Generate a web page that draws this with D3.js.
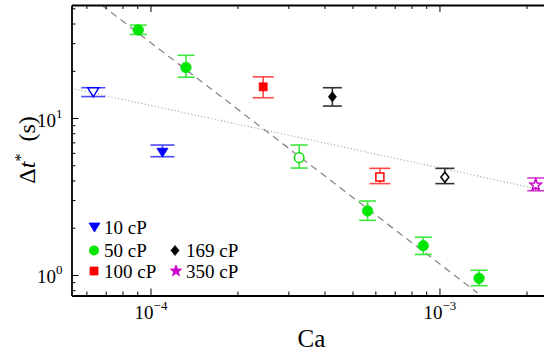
<!DOCTYPE html>
<html>
<head>
<meta charset="utf-8">
<script src="https://cdn.jsdelivr.net/npm/d3@7"></script>
<style>
  html, body { margin: 0; padding: 0; background: #fff; }
</style>
</head>
<body>
<svg id="chart" width="544" height="356"></svg>
<script>
// ---- data ----
const cp10_ca   = [6.34e-5, 1.10e-4];
const cp10_dt   = [14.8, 6.1];
const cp10_lo   = [13.7, 5.67];
const cp10_hi   = [15.6, 6.73];
const cp10_open = [true, false];

const cp50_ca   = [9.07e-5, 1.327e-4, 3.27e-4, 5.64e-4, 8.79e-4, 1.371e-3];
const cp50_dt   = [36.4, 21.0, 5.59, 2.56, 1.537, 0.953];
const cp50_lo   = [34.1, 18.2, 4.80, 2.23, 1.35, 0.855];
const cp50_hi   = [39.1, 25.1, 6.73, 2.96, 1.74, 1.071];
const cp50_open = [false, false, true, false, false, false];

const cp100_ca   = [2.455e-4, 6.22e-4];
const cp100_dt   = [15.8, 4.21];
const cp100_lo   = [13.47, 3.82];
const cp100_hi   = [18.3, 4.78];
const cp100_open = [false, true];

const cp169_ca   = [4.26e-4, 1.044e-3];
const cp169_dt   = [13.67, 4.19];
const cp169_lo   = [11.92, 3.82];
const cp169_hi   = [15.6, 4.78];
const cp169_open = [false, true];

const cp350_ca   = [2.153e-3];
const cp350_dt   = [3.74];
const cp350_lo   = [3.44];
const cp350_hi   = [4.15];
const cp350_open = [true];

const seriesLabels = ["10 cP", "50 cP", "100 cP", "169 cP", "350 cP"];

// fit lines (endpoints)
const dashCa = [6.77e-5, 1.355e-3];
const dashDt = [52.5, 0.768];
const dotCa  = [5.33e-5, 2.11e-3];
const dotDt  = [15.46, 3.58];

// ticks
const xMajor = [1e-4, 1e-3];
const xMajorExp = ["\u22124", "\u22123"];
const xMinor = [6e-5, 7e-5, 8e-5, 9e-5, 2e-4, 3e-4, 4e-4, 5e-4, 6e-4, 7e-4, 8e-4, 9e-4, 2e-3];
const yMajor = [1, 10];
const yMajorExp = ["0", "1"];
const yMinor = [0.8, 0.9, 2, 3, 4, 5, 6, 7, 8, 9, 20, 30, 40, 50];

// ---- scales ----
const svg = d3.select("#chart");
const FONT = "Liberation Serif";
const x = d3.scaleLog().domain([5.33e-5, 2.30e-3]).range([71.5, 544]);
const y = d3.scaleLog().domain([0.740, 52.5]).range([295.5, 5]);

// ---- styles ----
const styles = [
  { name: seriesLabels[0], ca: cp10_ca, dt: cp10_dt, lo: cp10_lo, hi: cp10_hi, open: cp10_open,
    color: "#0000ff", bar: "#4a4aff", cap: 24, shape: "tri" },
  { name: seriesLabels[1], ca: cp50_ca, dt: cp50_dt, lo: cp50_lo, hi: cp50_hi, open: cp50_open,
    color: "#00e600", bar: "#3de83d", cap: 17, shape: "circle" },
  { name: seriesLabels[2], ca: cp100_ca, dt: cp100_dt, lo: cp100_lo, hi: cp100_hi, open: cp100_open,
    color: "#ff0000", bar: "#ff4a4a", cap: 21, shape: "square" },
  { name: seriesLabels[3], ca: cp169_ca, dt: cp169_dt, lo: cp169_lo, hi: cp169_hi, open: cp169_open,
    color: "#000000", bar: "#333333", cap: 19, shape: "diamond" },
  { name: seriesLabels[4], ca: cp350_ca, dt: cp350_dt, lo: cp350_lo, hi: cp350_hi, open: cp350_open,
    color: "#cc00cc", bar: "#d040d0", cap: 17, shape: "star" }
];

function shapePath(shape) {
  switch (shape) {
    case "tri": return "M-5.5,-3.5L5.5,-3.5L0,5.5Z";
    case "square": return "M-4,-4L4,-4L4,4L-4,4Z";
    case "diamond": return "M0,-5L4,0L0,5L-4,0Z";
    case "star": {
      const pts = [];
      for (let i = 0; i < 10; i++) {
        const r = i % 2 === 0 ? 6 : 2.6;
        const a = -Math.PI / 2 + i * Math.PI / 5;
        pts.push([r * Math.cos(a), r * Math.sin(a)]);
      }
      return "M" + pts.map(p => p[0].toFixed(2) + "," + p[1].toFixed(2)).join("L") + "Z";
    }
    default: return null;
  }
}

// ---- fit lines ----
const line = d3.line().x(d => x(d[0])).y(d => y(d[1]));
svg.append("path")
  .attr("d", line(d3.zip(dotCa, dotDt)))
  .attr("fill", "none").attr("stroke", "#a8a8a8").attr("stroke-width", 1.1)
  .attr("stroke-dasharray", "1.2,2.2");
svg.append("path")
  .attr("d", line(d3.zip(dashCa, dashDt)))
  .attr("fill", "none").attr("stroke", "#888").attr("stroke-width", 1.3)
  .attr("stroke-dasharray", "7,5");

// ---- error bars and markers ----
styles.forEach(s => {
  const pts = s.ca.map((c, i) => ({ ca: c, dt: s.dt[i], lo: s.lo[i], hi: s.hi[i], open: s.open[i] }));
  const g = svg.append("g");
  const eb = g.selectAll("g.eb").data(pts).enter().append("g").attr("class", "eb")
    .attr("stroke", s.bar).attr("stroke-width", 1.6).attr("fill", "none");
  eb.append("line").attr("x1", d => x(d.ca)).attr("x2", d => x(d.ca))
    .attr("y1", d => y(d.lo)).attr("y2", d => y(d.hi));
  eb.append("line").attr("x1", d => x(d.ca) - s.cap / 2).attr("x2", d => x(d.ca) + s.cap / 2)
    .attr("y1", d => y(d.lo)).attr("y2", d => y(d.lo));
  eb.append("line").attr("x1", d => x(d.ca) - s.cap / 2).attr("x2", d => x(d.ca) + s.cap / 2)
    .attr("y1", d => y(d.hi)).attr("y2", d => y(d.hi));

  pts.forEach(d => {
    const cx = x(d.ca), cy = y(d.dt);
    let m;
    if (s.shape === "circle") {
      m = g.append("circle").attr("cx", cx).attr("cy", cy).attr("r", d.open ? 4.8 : 5.2);
    } else {
      m = g.append("path").attr("d", shapePath(s.shape)).attr("transform", `translate(${cx},${cy})`);
    }
    if (d.open) m.attr("fill", "#fff").attr("stroke", s.color).attr("stroke-width", 1.5);
    else m.attr("fill", s.color).attr("stroke", s.color).attr("stroke-width", 0.8);
  });
});

// ---- axes ----
const axisW = 1.8;
function styleAxis(g) {
  g.attr("font-family", FONT);
  g.select(".domain").attr("stroke", "#000").attr("stroke-width", axisW);
  g.selectAll(".tick line").attr("stroke", "#000").attr("stroke-width", 1);
}
// bottom
const gb = svg.append("g").attr("transform", "translate(0,295.5)")
  .call(d3.axisBottom(x).tickValues(xMajor).tickSizeInner(-7).tickSizeOuter(0).tickFormat(""));
styleAxis(gb);
svg.append("g").attr("transform", "translate(0,295.5)")
  .call(d3.axisBottom(x).tickValues(xMinor).tickSizeInner(-4).tickSizeOuter(0).tickFormat(""))
  .call(g => { g.select(".domain").remove(); g.selectAll(".tick line").attr("stroke", "#000"); });
gb.selectAll(".tick").append("text")
  .attr("y", 23).attr("fill", "#000").attr("text-anchor", "middle")
  .attr("font-family", FONT).attr("font-size", 19)
  .each(function(d, i) {
    const t = d3.select(this);
    t.append("tspan").text("10");
    t.append("tspan").attr("font-size", 13).attr("dy", -9).text(xMajorExp[i]);
  });
// top
const gt = svg.append("g").attr("transform", "translate(0,5)")
  .call(d3.axisTop(x).tickValues(xMajor).tickSizeInner(-7).tickSizeOuter(0).tickFormat(""));
styleAxis(gt);
svg.append("g").attr("transform", "translate(0,5)")
  .call(d3.axisTop(x).tickValues(xMinor).tickSizeInner(-4).tickSizeOuter(0).tickFormat(""))
  .call(g => { g.select(".domain").remove(); g.selectAll(".tick line").attr("stroke", "#000"); });
// left
const gl = svg.append("g").attr("transform", "translate(71.5,0)")
  .call(d3.axisLeft(y).tickValues(yMajor).tickSizeInner(-7).tickSizeOuter(0).tickFormat(""));
styleAxis(gl);
svg.append("g").attr("transform", "translate(71.5,0)")
  .call(d3.axisLeft(y).tickValues(yMinor).tickSizeInner(-4).tickSizeOuter(0).tickFormat(""))
  .call(g => { g.select(".domain").remove(); g.selectAll(".tick line").attr("stroke", "#000"); });
gl.selectAll(".tick").append("text")
  .attr("x", -9).attr("y", 8).attr("fill", "#000").attr("text-anchor", "end")
  .attr("font-family", FONT).attr("font-size", 19)
  .each(function(d, i) {
    const t = d3.select(this);
    t.append("tspan").text("10");
    t.append("tspan").attr("font-size", 13).attr("dy", -9).text(yMajorExp[i]);
  });

// ---- axis labels ----
svg.append("text").attr("x", 311.5).attr("y", 347).attr("text-anchor", "middle")
  .attr("font-family", FONT).attr("font-size", 25).text("Ca");
const yl = svg.append("text").attr("transform", "translate(35,150) rotate(-90)")
  .attr("text-anchor", "middle").attr("font-family", FONT).attr("font-size", 24);
yl.append("tspan").text("\u0394");
yl.append("tspan").attr("font-style", "italic").text("t");
yl.append("tspan").attr("font-size", 16).attr("dy", -9).text("*");
yl.append("tspan").attr("dy", 9).text("\u2002(s)");

// ---- legend ----
const legendItems = [
  { s: styles[0], mx: 94.5, my: 226.5, tx: 104, ty: 233.5 },
  { s: styles[1], mx: 94, my: 250.5, tx: 104, ty: 256.5 },
  { s: styles[2], mx: 94, my: 271, tx: 104, ty: 278 },
  { s: styles[3], mx: 175, my: 250.5, tx: 186, ty: 256.5 },
  { s: styles[4], mx: 176, my: 271, tx: 186, ty: 278 }
];
legendItems.forEach(it => {
  if (it.s.shape === "circle") {
    svg.append("circle").attr("cx", it.mx).attr("cy", it.my).attr("r", 5).attr("fill", it.s.color);
  } else {
    svg.append("path").attr("d", shapePath(it.s.shape))
      .attr("transform", `translate(${it.mx},${it.my})`)
      .attr("fill", it.s.color).attr("stroke", it.s.color).attr("stroke-width", 0.8);
  }
  svg.append("text").attr("x", it.tx).attr("y", it.ty)
    .attr("font-family", FONT).attr("font-size", 19).text(it.s.name);
});
</script>
</body>
</html>
